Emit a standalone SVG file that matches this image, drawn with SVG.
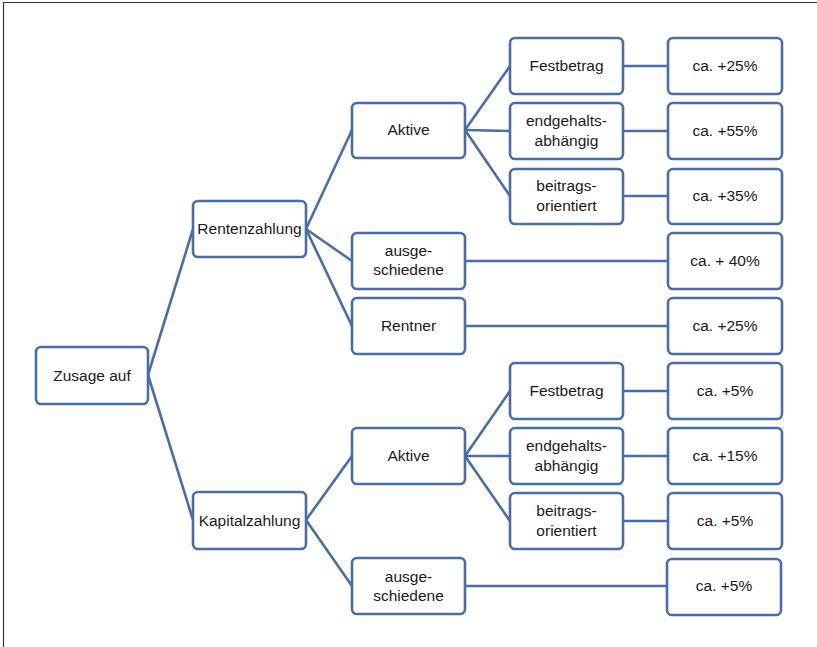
<svg xmlns="http://www.w3.org/2000/svg" width="817" height="647" viewBox="0 0 817 647">
<style>
.b{fill:#fff;stroke:#4a6da3;stroke-width:2.6}
.t{font-family:"Liberation Sans",Arial,sans-serif;font-size:15.5px;fill:#1a1a1a;text-anchor:middle;dominant-baseline:central}
.c line{stroke:#4a6da3;stroke-width:2.6}
</style>
<rect width="817" height="647" fill="#fff"/>
<path d="M3.5 647V2.5H817" fill="none" stroke="#333" stroke-width="1.2"/>
<g class="c" id="connectors">
<line x1="148" y1="375" x2="193" y2="229"/>
<line x1="148" y1="375" x2="193" y2="520"/>
<line x1="306" y1="229" x2="352" y2="130"/>
<line x1="306" y1="229" x2="352" y2="261"/>
<line x1="306" y1="229" x2="352" y2="326"/>
<line x1="306" y1="520" x2="352" y2="456"/>
<line x1="306" y1="520" x2="352" y2="586"/>
<line x1="465" y1="130" x2="510" y2="66"/>
<line x1="465" y1="130" x2="510" y2="131"/>
<line x1="465" y1="130" x2="510" y2="196"/>
<line x1="465" y1="456" x2="510" y2="391"/>
<line x1="465" y1="456" x2="510" y2="456"/>
<line x1="465" y1="456" x2="510" y2="521"/>
<line x1="623" y1="66" x2="668" y2="66"/>
<line x1="623" y1="131" x2="668" y2="131"/>
<line x1="623" y1="196" x2="668" y2="196"/>
<line x1="465" y1="261" x2="668" y2="261"/>
<line x1="465" y1="326" x2="668" y2="326"/>
<line x1="623" y1="391" x2="668" y2="391"/>
<line x1="623" y1="456" x2="668" y2="456"/>
<line x1="623" y1="521" x2="668" y2="521"/>
<line x1="465" y1="586" x2="667" y2="586"/>
</g>
<g id="n-zusage"><rect class="b" x="36" y="347" width="112" height="57" rx="5"/><text class="t" x="92" y="375">Zusage auf</text></g>
<g id="n-rente"><rect class="b" x="193" y="201" width="113" height="56" rx="5"/><text class="t" x="249.5" y="228">Rentenzahlung</text></g>
<g id="n-kapital"><rect class="b" x="193" y="492" width="113" height="57" rx="5"/><text class="t" x="249.5" y="520">Kapitalzahlung</text></g>
<g id="n-aktive1"><rect class="b" x="352" y="103" width="113" height="55" rx="5"/><text class="t" x="408.5" y="129">Aktive</text></g>
<g id="n-ausge1"><rect class="b" x="352" y="233" width="113" height="56" rx="5"/><text class="t" x="408.5" y="250">ausge-</text><text class="t" x="408.5" y="269">schiedene</text></g>
<g id="n-rentner"><rect class="b" x="352" y="298" width="113" height="56" rx="5"/><text class="t" x="408.5" y="325">Rentner</text></g>
<g id="n-aktive2"><rect class="b" x="352" y="428" width="113" height="56" rx="5"/><text class="t" x="408.5" y="455">Aktive</text></g>
<g id="n-ausge2"><rect class="b" x="352" y="558" width="113" height="56" rx="5"/><text class="t" x="408.5" y="576">ausge-</text><text class="t" x="408.5" y="595">schiedene</text></g>
<g id="n-fest1"><rect class="b" x="510" y="38" width="113" height="56" rx="5"/><text class="t" x="566.5" y="65">Festbetrag</text></g>
<g id="n-end1"><rect class="b" x="510" y="103" width="113" height="56" rx="5"/><text class="t" x="566.5" y="120">endgehalts-</text><text class="t" x="566.5" y="140">abhängig</text></g>
<g id="n-beit1"><rect class="b" x="510" y="169" width="113" height="55" rx="5"/><text class="t" x="566.5" y="185">beitrags-</text><text class="t" x="566.5" y="205">orientiert</text></g>
<g id="n-fest2"><rect class="b" x="510" y="363" width="113" height="56" rx="5"/><text class="t" x="566.5" y="390">Festbetrag</text></g>
<g id="n-end2"><rect class="b" x="510" y="428" width="113" height="56" rx="5"/><text class="t" x="566.5" y="445">endgehalts-</text><text class="t" x="566.5" y="465">abhängig</text></g>
<g id="n-beit2"><rect class="b" x="510" y="493" width="113" height="56" rx="5"/><text class="t" x="566.5" y="510">beitrags-</text><text class="t" x="566.5" y="530">orientiert</text></g>
<g id="p1"><rect class="b" x="668" y="38" width="114" height="56" rx="5"/><text class="t" x="725" y="65">ca. +25%</text></g>
<g id="p2"><rect class="b" x="668" y="103" width="114" height="56" rx="5"/><text class="t" x="725" y="130">ca. +55%</text></g>
<g id="p3"><rect class="b" x="668" y="169" width="114" height="55" rx="5"/><text class="t" x="725" y="195">ca. +35%</text></g>
<g id="p4"><rect class="b" x="668" y="233" width="114" height="56" rx="5"/><text class="t" x="725" y="260">ca. + 40%</text></g>
<g id="p5"><rect class="b" x="668" y="298" width="114" height="56" rx="5"/><text class="t" x="725" y="325">ca. +25%</text></g>
<g id="p6"><rect class="b" x="668" y="363" width="114" height="56" rx="5"/><text class="t" x="725" y="390">ca. +5%</text></g>
<g id="p7"><rect class="b" x="668" y="428" width="114" height="56" rx="5"/><text class="t" x="725" y="455">ca. +15%</text></g>
<g id="p8"><rect class="b" x="668" y="493" width="114" height="56" rx="5"/><text class="t" x="725" y="520">ca. +5%</text></g>
<g id="p9"><rect class="b" x="667" y="559" width="114" height="56" rx="5"/><text class="t" x="724" y="585">ca. +5%</text></g>
</svg>
